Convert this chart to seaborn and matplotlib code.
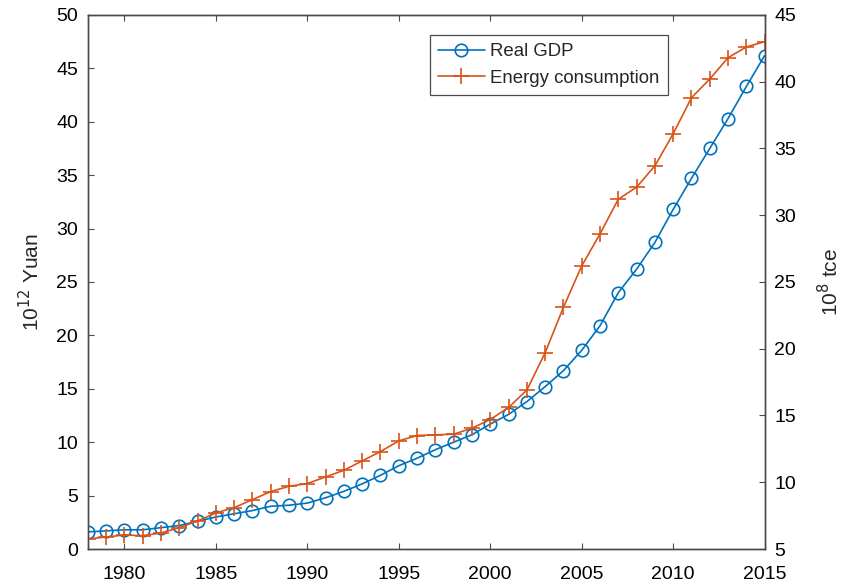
import matplotlib
matplotlib.use("Agg")
import matplotlib.pyplot as plt
import seaborn as sns
import pandas as pd

years = list(range(1978, 2016))
gdp = [1.6, 1.7, 1.8, 1.8, 2.0, 2.2, 2.6, 3.0, 3.3, 3.6, 4.0, 4.1, 4.3, 4.8, 5.4, 6.1,
       6.9, 7.8, 8.5, 9.3, 10.0, 10.7, 11.7, 12.6, 13.8, 15.2, 16.7, 18.6, 20.9, 24.0,
       26.2, 28.7, 31.8, 34.7, 37.5, 40.3, 43.3, 46.2]
energy = [5.75, 5.9, 6.05, 6.0, 6.2, 6.6, 7.1, 7.7, 8.1, 8.7, 9.3, 9.7, 9.9, 10.4, 10.9,
          11.6, 12.3, 13.1, 13.5, 13.55, 13.6, 14.05, 14.7, 15.6, 16.9, 19.7, 23.1, 26.2,
          28.6, 31.2, 32.1, 33.7, 36.1, 38.8, 40.2, 41.8, 42.6, 43.0]
left_ticks = [0, 5, 10, 15, 20, 25, 30, 35, 40, 45, 50]
right_ticks = [5, 10, 15, 20, 25, 30, 35, 40, 45]
x_ticks = [1980, 1985, 1990, 1995, 2000, 2005, 2010, 2015]

sns.set_theme(style="white")
plt.rcParams['font.family'] = ['Liberation Sans', 'DejaVu Sans']

df = pd.DataFrame({"year": years, "gdp": gdp, "energy": energy})

blue = "#0072BD"
orange = "#D95319"
edge = "#4a4a4a"

fig = plt.figure(figsize=(8.44, 5.85), dpi=100)
ax = fig.add_axes([0.104, 0.0615, 0.802, 0.913])
ax2 = ax.twinx()

sns.lineplot(data=df, x="year", y="gdp", ax=ax, color=blue, marker="o",
             markersize=9, markerfacecolor="none", markeredgecolor=blue,
             markeredgewidth=1.2, linewidth=1.2, label="Real GDP", legend=False)
sns.lineplot(data=df, x="year", y="energy", ax=ax2, color=orange, marker="+",
             markersize=11, markeredgecolor=orange, markeredgewidth=1.2, linewidth=1.2,
             label="Energy consumption", legend=False)

ax.set_xlim(1978, 2015)
ax.set_ylim(0, 50)
ax2.set_ylim(5, 45)
ax.set_xticks(x_ticks)
ax.set_yticks(left_ticks)
ax2.set_yticks(right_ticks)

for a in (ax, ax2):
    for s in a.spines.values():
        s.set_color(edge)
        s.set_linewidth(1.0)
ax.tick_params(axis="both", direction="in", length=4, width=0.8, color=edge,
               labelsize=14, labelcolor="black", top=True, bottom=True, left=True, right=False)
ax2.tick_params(axis="y", direction="in", length=4, width=0.8, color=edge,
                labelsize=14, labelcolor="black", right=True, pad=7)
ax.tick_params(axis="x", pad=12)
ax.tick_params(axis="y", pad=7)

ax.set_xlabel("")
ax.set_ylabel("10$^{12}$ Yuan", fontsize=15, labelpad=9)
ax2.set_ylabel("10$^{8}$ tce", fontsize=15, labelpad=15)

h1, l1 = ax.get_legend_handles_labels()
h2, l2 = ax2.get_legend_handles_labels()
leg = ax2.legend(h1 + h2, l1 + l2, loc="upper right", bbox_to_anchor=(0.857, 0.9625),
                 borderaxespad=0, fontsize=13.4, frameon=True, fancybox=False, framealpha=1,
                 edgecolor=edge, handlelength=2.5, borderpad=0.45, labelspacing=0.5,
                 handletextpad=0.3)
leg.get_frame().set_linewidth(0.9)

fig.savefig("out.png", dpi=100)
